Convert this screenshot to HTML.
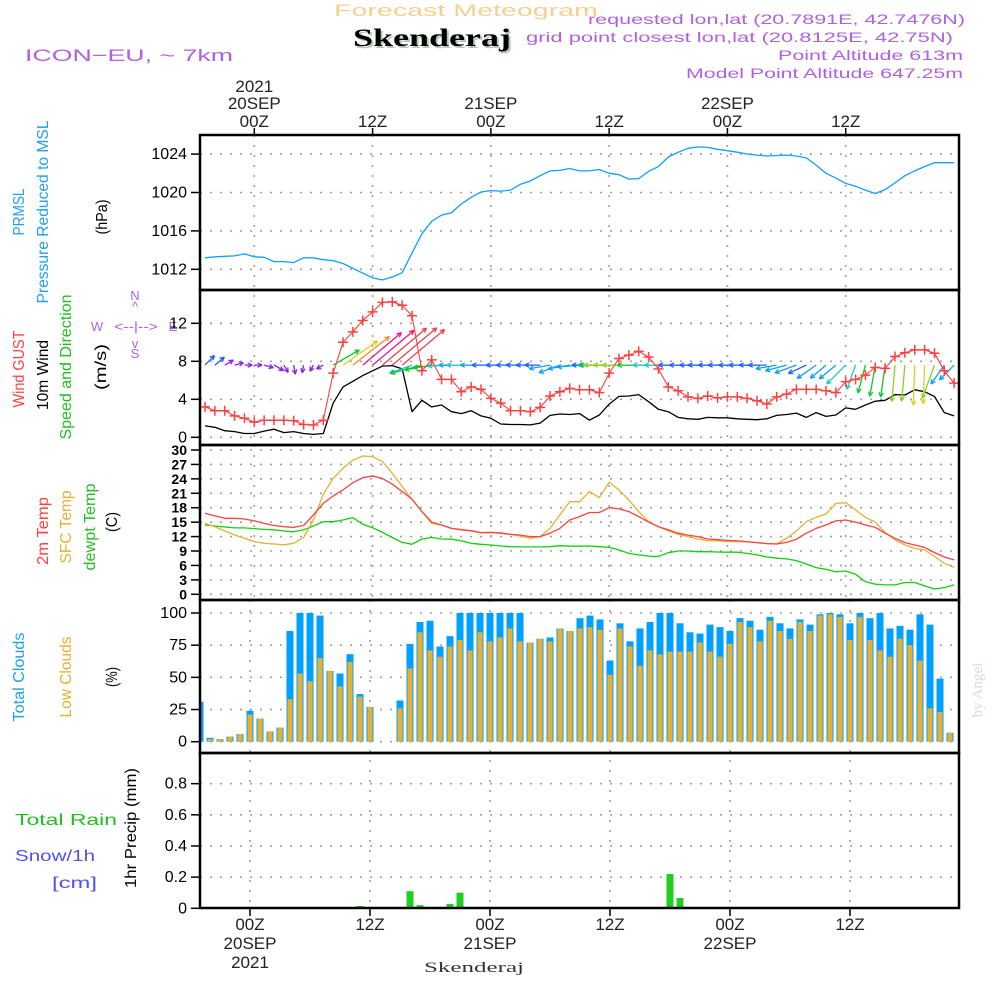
<!DOCTYPE html>
<html><head><meta charset="utf-8"><title>Forecast Meteogram Skenderaj</title>
<style>
html,body{margin:0;padding:0;background:#fff;}
svg{display:block;font-family:"Liberation Sans",sans-serif;}
</style></head>
<body>
<svg id="chart" width="1000" height="1000" viewBox="0 0 1000 1000" xmlns="http://www.w3.org/2000/svg">
<rect x="0" y="0" width="1000" height="1000" fill="#ffffff"/>
<!-- Header -->
<text x="334" y="16" font-size="17" fill="#f5d090" textLength="264" lengthAdjust="spacingAndGlyphs">Forecast Meteogram</text>
<text x="355" y="48" font-size="25" font-weight="bold" font-family="Liberation Serif, serif" fill="#b8c8b8" textLength="158" lengthAdjust="spacingAndGlyphs">Skenderaj</text>
<text x="353" y="46" font-size="25" font-weight="bold" font-family="Liberation Serif, serif" fill="#000" textLength="158" lengthAdjust="spacingAndGlyphs">Skenderaj</text>
<text x="25" y="61" font-size="17" fill="#b060e0" textLength="208" lengthAdjust="spacingAndGlyphs">ICON−EU, ~ 7km</text>
<text x="965" y="24" font-size="14" fill="#b060e0" text-anchor="end" textLength="377" lengthAdjust="spacingAndGlyphs">requested lon,lat (20.7891E, 42.7476N)</text>
<text x="953" y="42" font-size="14" fill="#b060e0" text-anchor="end" textLength="427" lengthAdjust="spacingAndGlyphs">grid point closest lon,lat (20.8125E, 42.75N)</text>
<text x="963" y="60" font-size="14" fill="#b060e0" text-anchor="end" textLength="185" lengthAdjust="spacingAndGlyphs">Point Altitude 613m</text>
<text x="963" y="78" font-size="14" fill="#b060e0" text-anchor="end" textLength="277" lengthAdjust="spacingAndGlyphs">Model Point Altitude 647.25m</text>

<!-- Left axis titles -->
<g font-size="16">
<text transform="translate(24,212) rotate(-90)" text-anchor="middle" fill="#20a0f0" textLength="47" lengthAdjust="spacingAndGlyphs">PRMSL</text>
<text transform="translate(48,212) rotate(-90)" text-anchor="middle" fill="#20a0f0" textLength="183" lengthAdjust="spacingAndGlyphs">Pressure Reduced to MSL</text>
<text transform="translate(107,217) rotate(-90)" text-anchor="middle" fill="#000" textLength="35" lengthAdjust="spacingAndGlyphs">(hPa)</text>
<text transform="translate(24,369) rotate(-90)" text-anchor="middle" fill="#ff4040" textLength="77" lengthAdjust="spacingAndGlyphs">Wind GUST</text>
<text transform="translate(48,375) rotate(-90)" text-anchor="middle" fill="#000" textLength="70" lengthAdjust="spacingAndGlyphs">10m Wind</text>
<text transform="translate(71,367) rotate(-90)" text-anchor="middle" fill="#20c020" textLength="145" lengthAdjust="spacingAndGlyphs">Speed and Direction</text>
<text transform="translate(106,367) rotate(-90)" text-anchor="middle" fill="#000" textLength="46" lengthAdjust="spacingAndGlyphs">(m/s)</text>
<text transform="translate(48,531) rotate(-90)" text-anchor="middle" fill="#ff4040" textLength="68" lengthAdjust="spacingAndGlyphs">2m Temp</text>
<text transform="translate(71,527) rotate(-90)" text-anchor="middle" fill="#e8b030" textLength="73" lengthAdjust="spacingAndGlyphs">SFC Temp</text>
<text transform="translate(95,527) rotate(-90)" text-anchor="middle" fill="#20c020" textLength="87" lengthAdjust="spacingAndGlyphs">dewpt Temp</text>
<text transform="translate(117,522) rotate(-90)" text-anchor="middle" fill="#000" textLength="20" lengthAdjust="spacingAndGlyphs">(C)</text>
<text transform="translate(24,677) rotate(-90)" text-anchor="middle" fill="#20a0f0" textLength="89" lengthAdjust="spacingAndGlyphs">Total Clouds</text>
<text transform="translate(71,677) rotate(-90)" text-anchor="middle" fill="#e8b030" textLength="81" lengthAdjust="spacingAndGlyphs">Low Clouds</text>
<text transform="translate(117,677) rotate(-90)" text-anchor="middle" fill="#000" textLength="20" lengthAdjust="spacingAndGlyphs">(%)</text>
<text transform="translate(136,828) rotate(-90)" text-anchor="middle" fill="#000" textLength="120" lengthAdjust="spacingAndGlyphs">1hr Precip (mm)</text>
<text x="15" y="825" fill="#20c020" textLength="102" lengthAdjust="spacingAndGlyphs">Total   Rain</text>
<text x="15" y="861" fill="#5050f0" textLength="80" lengthAdjust="spacingAndGlyphs">Snow/1h</text>
<text x="52" y="888" fill="#5050f0" textLength="45" lengthAdjust="spacingAndGlyphs">[cm]</text>
</g>
<!-- compass -->
<g fill="#b060e0" font-size="13">
<text x="135" y="300" text-anchor="middle">N</text>
<text x="135" y="311" text-anchor="middle">^</text>
<text x="97" y="331" text-anchor="middle">W</text>
<text x="136" y="331" text-anchor="middle" textLength="44" lengthAdjust="spacingAndGlyphs">&lt;--|--&gt;</text>
<text x="173" y="331" text-anchor="middle">E</text>
<text x="135" y="348" text-anchor="middle">v</text>
<text x="135" y="358" text-anchor="middle">S</text>
</g>
<text transform="translate(982,690) rotate(-90)" text-anchor="middle" font-family="Liberation Serif, serif" font-size="15" fill="#d4ddd4">by Angel</text>
<text x="474" y="972" text-anchor="middle" font-family="Liberation Serif, serif" font-size="15" fill="#333" textLength="100" lengthAdjust="spacingAndGlyphs">Skenderaj</text>
<g id="plot"></g>
</svg>
<script>
// ---------- DATA ----------
const startHour = -5;
const pressure = [1013.2,1013.3,1013.35,1013.4,1013.6,1013.3,1013.25,1012.8,1012.8,1012.7,1013.2,1013.2,1013.0,1012.9,1012.6,1012.1,1011.6,1011.1,1010.9,1011.2,1011.65,1013.7,1015.7,1017.0,1017.65,1017.9,1018.8,1019.5,1020.05,1020.2,1020.15,1020.25,1020.85,1021.2,1021.75,1022.25,1022.3,1022.5,1022.25,
1022.25,1022.4,1022.0,1021.85,1021.4,1021.45,1022.2,1022.7,1023.7,1024.2,1024.6,1024.75,1024.7,1024.5,1024.35,1024.2,1024.0,1023.9,1023.8,1023.85,1023.9,1023.8,1023.6,1022.85,1022.0,1021.5,1020.95,1020.65,1020.25,1019.9,1020.3,1021.0,1021.75,1022.25,1022.7,1023.1,1023.1,1023.1];
const wind10m = [1.2,1.05,0.7,0.6,0.4,0.4,0.65,0.85,0.5,0.6,0.4,0.3,0.4,
3.6,5.3,5.9,6.5,7.0,7.5,7.55,7.2,2.7,3.9,3.2,3.4,2.7,2.5,2.8,2.25,2.0,1.4,1.35,1.35,1.3,1.5,2.3,2.45,2.4,2.5,
1.8,2.35,3.5,4.3,4.35,4.5,3.75,2.95,2.7,2.1,1.95,1.9,2.1,2.05,2.05,1.95,1.9,1.85,1.95,2.3,2.4,2.55,2.1,2.6,2.2,2.35,3.1,2.95,3.4,3.8,3.9,4.5,4.45,5.0,4.8,4.3,2.6,2.25];
const windGust = [3.2,2.8,2.8,2.25,2.0,1.6,1.8,1.8,1.8,1.75,1.35,1.3,1.8,
6.75,10.0,11.1,12.3,13.2,14.2,14.25,13.9,12.8,7.0,8.15,6.1,6.1,4.8,5.3,5.05,4.1,3.6,2.8,2.8,2.7,3.15,4.35,4.8,5.15,5.0,
5.0,4.7,6.75,8.3,8.65,9.05,8.45,7.2,5.3,4.9,4.25,4.1,4.35,4.15,4.25,4.25,4.1,3.85,3.5,4.25,4.55,5.05,5.05,5.05,4.9,4.7,5.85,6.1,6.55,7.35,7.25,8.5,8.9,9.2,9.2,8.85,7.0,5.7];
const windArrowDir = [45,40,30,15,0,0,-15,-30,-60,-80,-100,-120,-150,
30,35,38,40,40,40,40,40,200,195,190,185,182,180,180,180,180,180,180,180,180,180,190,200,190,185,
180,180,180,180,180,180,180,180,180,180,180,180,180,180,180,180,180,180,180,190,195,200,205,215,220,220,225,250,255,260,262,265,265,268,268,250,235,225];
const temp2m = [16.85,16.3,15.8,15.8,15.65,15.25,14.75,14.3,14.05,13.9,14.3,16.5,18.9,20.45,21.7,23.2,24.25,24.6,24.1,22.9,21.35,19.8,17.2,15.0,14.4,13.7,13.4,13.2,12.8,12.9,12.7,12.45,12.3,12.0,12.0,12.7,13.7,15.45,16.15,
17.0,17.0,18.0,17.75,17.2,16.15,15.0,14.05,13.4,12.7,12.3,12.0,11.5,11.35,11.2,11.1,10.95,10.75,10.55,10.45,10.8,11.45,12.7,13.7,14.4,15.25,15.45,15.0,14.4,13.9,12.7,11.65,10.75,10.25,9.75,8.7,7.75,7.15];
const tempSfc = [14.75,14.05,13.15,12.35,11.65,10.95,10.6,10.45,10.3,10.6,11.8,15.45,20.8,24.1,26.2,27.9,28.75,28.6,27.6,25.15,22.4,19.75,17.2,14.75,14.4,13.7,13.5,13.2,12.8,12.8,12.8,12.45,12.1,11.65,12.0,13.7,16.5,19.25,19.25,
21.35,20.1,23.3,21.7,19.6,17.2,15.1,14.05,13.15,12.45,12.0,11.5,11.15,11.1,10.95,10.95,10.9,10.75,10.55,10.45,11.65,13.15,15.1,16.0,16.7,18.9,19.05,17.55,16.0,15.0,12.9,11.3,10.25,9.55,9.2,7.85,6.45,5.6];
const tempDew = [14.4,14.2,14.0,13.8,13.8,13.65,13.5,13.4,13.15,13.0,13.4,14.2,15.1,15.1,15.45,15.95,14.55,13.85,12.9,11.8,10.8,10.4,11.5,11.8,11.5,11.45,11.1,10.6,10.4,10.25,10.05,9.9,9.85,9.85,9.85,9.9,10.1,10.0,10.0,
10.05,9.9,9.75,9.2,8.5,8.2,7.95,7.85,8.65,9.0,9.0,8.85,8.85,8.8,8.75,8.75,8.5,8.2,7.75,7.5,7.35,7.0,6.3,5.55,5.2,4.65,4.85,4.15,2.65,2.1,1.95,1.95,2.45,2.45,1.75,1.1,1.4,1.95];
const cloudTotal = [31,3,2,4,6,24,18,8,11,86,100,100,98,55,53,68,37,27,0,0,32,76,93,94,74,82,100,100,100,100,100,100,100,77,80,81,88,86,96,
98,95,63,92,78,88,93,100,100,92,85,84,91,89,86,96,94,87,97,92,88,95,91,99,100,99,92,100,96,100,88,90,87,99,91,49,7];
const cloudLow = [0,2,2,4,6,21,18,8,11,33,53,47,65,55,43,62,35,27,0,0,26,57,85,71,66,74,79,71,85,78,81,88,78,77,80,78,88,86,88,
89,87,52,88,74,59,71,68,70,70,70,77,70,66,76,93,89,78,94,86,80,93,86,98,99,97,79,97,79,71,66,80,75,63,26,23,7];
const rain = [0,0,0,0,0,0,0,0,0,0,0,0,0,0,0,0,0.015,0,0,0,0,0.11,0.02,0,0,0.028,0.1,0,0,0,0,0,0,0,0,0,0,0,0,
0,0,0,0,0,0,0,0,0.22,0.066,0,0,0,0,0,0,0,0,0,0,0,0,0,0,0,0,0,0,0,0,0,0,0,0,0,0,0];
const pressureTicks = [1012,1016,1020,1024];
const windTicks = [0,4,8,12];
const tempTicks = [0,3,6,9,12,15,18,21,24,27,30];
const cloudTicks = [0,25,50,75,100];
const rainTicks = [0,0.2,0.4,0.6,0.8];
const timeTickHours = [0,12,24,36,48,60];
const timeTickTop = [["2021","20SEP","00Z"],["","","12Z"],["","21SEP","00Z"],["","","12Z"],["","22SEP","00Z"],["","","12Z"]];
const timeTickBottom = [["00Z","20SEP","2021"],["12Z","",""],["00Z","21SEP",""],["12Z","",""],["00Z","22SEP",""],["12Z","",""]];

// ---------- SCALES ----------
const NS="http://www.w3.org/2000/svg";
const plot=document.getElementById('plot');
const L=200, R=959;
const xTop = h => 254.3 + 9.857*h;
const xBot = h => 250 + 10*h;
const yP = p => 269.3 - (p-1012)*9.6;
const yW = v => 437.3 - v*9.5;
const yT = t => 594.3 - t*4.81;
const yC = c => 741.7 - c*1.287;
const yR = r => 908.3 - r*155.8;
const panels = [[135,290],[290,445],[445,600],[600,753],[753,908]];

function mk(tag, attrs, parent){
  const e=document.createElementNS(NS,tag);
  for(const k in attrs) e.setAttribute(k,attrs[k]);
  (parent||plot).appendChild(e);
  return e;
}
function grp(){ return mk('g',{}); }

// ---------- GRID ----------
const grid=grp();


function hgrid(y){ mk('line',{x1:L,x2:R,y1:y,y2:y,stroke:'#a0a0a0','stroke-width':1.6,'stroke-dasharray':'2,8'},grid); }
function vgrid(x,y1,y2){ mk('line',{x1:x,x2:x,y1:y1,y2:y2,stroke:'#a0a0a0','stroke-width':1.6,'stroke-dasharray':'2,8'},grid); }
pressureTicks.forEach(v=>hgrid(yP(v)));
windTicks.forEach(v=>hgrid(yW(v)));
tempTicks.forEach(v=>hgrid(yT(v)));
cloudTicks.forEach(v=>hgrid(yC(v)));
rainTicks.slice(1).forEach(v=>hgrid(yR(v)));
timeTickHours.forEach(h=>{ vgrid(xTop(h),135,600); vgrid(xBot(h),600,908); });

// ---------- AXIS TICKS & LABELS ----------
const axes=grp();


function ytick(y,label,fs,name,bold){
  mk('line',{x1:191,x2:200,y1:y,y2:y,stroke:'#000','stroke-width':1.5},axes);
  const t=mk('text',{x:187,y:y+5,'text-anchor':'end','font-size':fs,fill:'#000','font-weight':bold?'bold':'normal'},axes);
  t.textContent=label;
  
  
}
pressureTicks.forEach(v=>ytick(yP(v),String(v),16,'pressure-tick-label'));
windTicks.forEach(v=>ytick(yW(v),String(v),16,'wind-tick-label'));
tempTicks.forEach(v=>ytick(yT(v),String(v),14,'temp-tick-label',true));
cloudTicks.forEach(v=>ytick(yC(v),String(v),16,'cloud-tick-label'));
rainTicks.forEach(v=>ytick(yR(v),v===0?'0':v.toFixed(1),16,'precip-tick-label'));
timeTickHours.forEach((h,k)=>{
  const xt=xTop(h), xb=xBot(h);
  mk('line',{x1:xt,x2:xt,y1:128,y2:135,stroke:'#000','stroke-width':1.5},axes);
  mk('line',{x1:xb,x2:xb,y1:908,y2:916,stroke:'#000','stroke-width':1.5},axes);
  [86,103,121].forEach((yy,j)=>{
    const s=timeTickTop[k][j]; if(!s) return;
    const t=mk('text',{x:xt,y:yy+6,'text-anchor':'middle','font-size':17,fill:'#222'},axes);
    t.textContent=s;
    
    
  });
  [924,943,962].forEach((yy,j)=>{
    const s=timeTickBottom[k][j]; if(!s) return;
    const t=mk('text',{x:xb,y:yy+6,'text-anchor':'middle','font-size':17,fill:'#222'},axes);
    t.textContent=s;
    
    
  });
});

// ---------- SERIES ----------
function polyline(vals, xf, yf, color, w, name){
  const pts=vals.map((v,k)=>xf(k+startHour).toFixed(1)+','+yf(v).toFixed(1)).join(' ');
  const p=mk('polyline',{points:pts,fill:'none',stroke:color,'stroke-width':w,'stroke-linejoin':'round'});
  
  
  return p;
}
const cg=grp();


cloudTotal.forEach((v,i)=>{
  const x=L+10*i, y=yC(v);
  const b=mk('rect',{x:Math.max(L,x-3.5),y:y,width:(x-3.5<L?x+3.5-L:7),height:yC(0)-y,fill:'#00a0ff'},cg);
  
  
});
cloudLow.forEach((v,i)=>{
  const x=L+10*i, y=yC(v);
  if(x-2.5<L) return;
  const b=mk('rect',{x:x-2.5,y:y,width:5,height:yC(0)-y,fill:'#e8b030'},cg);
  
  
});
const rg=grp();


rain.forEach((v,i)=>{
  if(v<=0) return;
  const x=L+10*i, y=yR(v);
  const b=mk('rect',{x:x-3.5,y:y,width:7,height:yR(0)-y,fill:'#20d020'},rg);
  
  
});
polyline(pressure,xTop,yP,'#10a0ff',1.3,'pressure-line');
polyline(tempDew,xTop,yT,'#10d010',1.3,'dewpoint-line');
polyline(tempSfc,xTop,yT,'#e8b030',1.3,'sfc-temp-line');
polyline(temp2m,xTop,yT,'#ff4040',1.3,'temp-2m-line');
polyline(wind10m,xTop,yW,'#000',1.3,'wind-10m-line');
function speedColor(v){
  if(v<1) return '#9020e0';
  if(v<2.2) return '#2060ff';
  if(v<2.7) return '#10a0f0';
  if(v<3.2) return '#20c8c0';
  if(v<4) return '#10c830';
  if(v<4.7) return '#90d020';
  if(v<5.5) return '#e0d020';
  if(v<6.5) return '#f09020';
  if(v<7.2) return '#f01090';
  return '#f04050';
}
const ag=grp();


windArrowDir.forEach((d,k)=>{
  const v=wind10m[k];
  const len=7*v+5;
  const x0=xTop(k+startHour), y0=yW(7.6);
  const a=d*Math.PI/180;
  const x1=x0+len*Math.cos(a), y1=y0-len*Math.sin(a);
  const c=speedColor(v);
  const g=mk('g',{stroke:c,'stroke-width':1.3,fill:'none'},ag);
  
  
  mk('line',{x1:x0,y1:y0,x2:x1,y2:y1},g);
  [a+Math.PI-0.45,a+Math.PI+0.45].forEach(b=>{
    mk('line',{x1:x1,y1:y1,x2:x1+5*Math.cos(b),y2:y1-5*Math.sin(b)},g);
  });
});
polyline(windGust,xTop,yW,'#ff4040',1.1,'wind-gust-line');
const gm=grp();


windGust.forEach((v,k)=>{
  const x=xTop(k+startHour), y=yW(v);
  const p=mk('path',{d:`M${x-5},${y}H${x+5}M${x},${y-5}V${y+5}`,stroke:'#ff4040','stroke-width':1.5},gm);
  
  
});

// ---------- FRAMES ----------
const fr=grp();


panels.forEach(([a,b])=>{
  mk('rect',{x:L,y:a,width:R-L,height:b-a,fill:'none',stroke:'#000','stroke-width':2.5},fr);
});
</script>
</body></html>
